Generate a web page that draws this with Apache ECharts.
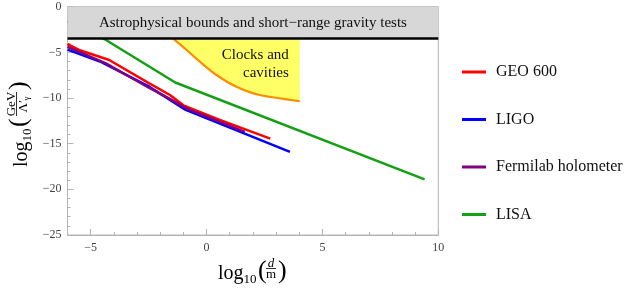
<!DOCTYPE html>
<html><head><meta charset="utf-8">
<script src="https://cdn.jsdelivr.net/npm/echarts@6/dist/echarts.min.js"></script>
<style>html,body{margin:0;padding:0;background:#fff}#c{width:633px;height:291px}</style>
</head><body><div id="c"></div>
<script>
// ---- data (log10 d/m , log10 GeV/Λ'γ) ----
const geoX   = [-6, -5.5, -4.2, -2.47, -1.58, -1.0, 0.57, 2.75];
const geoY   = [-4.1, -4.74, -5.84, -8.39, -9.67, -10.8, -12.4, -14.45];
const ligoX  = [-6, -4.6, -2.47, -1.58, -0.9, 3.6];
const ligoY  = [-4.7, -6.0, -8.76, -10.2, -11.3, -15.9];
const fermiX = [-6, -4.34, -2.47, -1.58, -0.9, 1.65];
const fermiY = [-4.4, -6.2, -8.9, -10.1, -11.1, -13.7];
const lisaX  = [-6, -4.41, -1.35, 9.41];
const lisaY  = [-1.6, -3.54, -8.3, -18.9];
const clockX = [-1.44, -0.86, -0.29, 0.43, 1.29, 2.30, 4.02];
const clockY = [-3.5, -4.74, -6.02, -7.48, -8.76, -9.67, -10.33];
const bandTop = 0, bandBottom = -3.5;
const bandText = 'Astrophysical bounds and short\u2212range gravity tests';
const clockText = 'Clocks and\ncavities';
const clockLabelAt = [3.55, -6.26];
const seriesNames = ['GEO 600', 'LIGO', 'Fermilab holometer', 'LISA'];
const seriesColors = ['#ff0000', '#0000ff', '#800080', '#14a014'];
const xMajor = [-5, 0, 5, 10];
const xMin = -6, xMax = 10, yMin = -25, yMax = 0;

const zip = (xs, ys) => xs.map((x, i) => [x, ys[i]]);
const FONT = 'Liberation Serif';
const minus = v => (v < 0 ? '\u2212' + Math.abs(v) : String(v));

const lineSeries = [[geoX, geoY], [ligoX, ligoY], [fermiX, fermiY], [lisaX, lisaY]].map((d, i) => ({
  name: seriesNames[i], type: 'line', data: zip(d[0], d[1]), showSymbol: false, symbol: 'none',
  lineStyle: { color: seriesColors[i], width: 2.5 }, itemStyle: { color: seriesColors[i] }, z: 2
}));

function t(text, x, y, size, extra) {
  return { type: 'text', style: Object.assign({
    text, x, y, font: size + 'px "' + FONT + '"', fill: '#000',
    align: 'left', verticalAlign: 'middle', textAlign: 'left', textVerticalAlign: 'middle'
  }, extra || {}) };
}
function line(x1, x2, y) {
  return { type: 'line', shape: { x1, y1: y, x2, y2: y }, style: { stroke: '#000', lineWidth: 0.8 } };
}

const xTitle = {
  type: 'group', x: 218, y: 274, children: [
    t('log', 0, 0, 20), t('10', 25.6, 6, 13), t('(', 40, -3, 26),
    t('d', 53, -10, 13, { align: 'center', textAlign: 'center', font: 'italic 13px "' + FONT + '"' }),
    line(48, 58, -5.5),
    t('m', 53, 1, 13, { align: 'center', textAlign: 'center' }),
    t(')', 60, -3, 26)
  ]
};
const yTitle = {
  type: 'group', x: 22, y: 167, rotation: Math.PI / 2, children: [
    t('log', 0, 0, 20), t('10', 25.6, 6, 13), t('(', 40, -3, 26),
    t('GeV', 63, -10, 13, { align: 'center', textAlign: 'center' }),
    line(51, 75, -5.5),
    t('\u039B\u2032', 54.5, 1.5, 13),
    t('\u03B3', 66.5, 4.5, 9),
    t(')', 77, -3, 26)
  ]
};

const option = {
  animation: false,
  backgroundColor: '#fff',
  grid: { left: 67.5, right: 194.7, top: 6.7, bottom: 56, show: true, borderColor: '#b4b4b4', borderWidth: 1 },
  xAxis: [{
    type: 'value', min: xMin, max: xMax, interval: 1,
    axisLine: { show: true, onZero: false, lineStyle: { color: '#b4b4b4' } },
    axisTick: { show: true, inside: true, length: 3, lineStyle: { color: '#b4b4b4' } },
    axisLabel: { customValues: xMajor, formatter: minus, color: '#444', fontFamily: FONT, fontSize: 12, margin: 7 },
    splitLine: { show: false }
  }, {
    type: 'value', min: xMin, max: xMax, interval: 1, position: 'bottom',
    axisLine: { show: false, onZero: false },
    axisTick: { show: true, inside: true, length: 6, customValues: xMajor, lineStyle: { color: '#b4b4b4' } },
    axisLabel: { show: false }, splitLine: { show: false }
  }],
  yAxis: {
    type: 'value', min: yMin, max: yMax, interval: 5,
    axisLine: { show: true, onZero: false, lineStyle: { color: '#b4b4b4' } },
    axisTick: { show: true, inside: true, length: 6, lineStyle: { color: '#b4b4b4' } },
    minorTick: { show: true, splitNumber: 5, length: 3, lineStyle: { color: '#b4b4b4' } },
    axisLabel: { formatter: minus, color: '#444', fontFamily: FONT, fontSize: 12, margin: 6 },
    splitLine: { show: false }
  },
  legend: {
    orient: 'vertical', left: 462, top: 64, padding: 0, itemGap: 31.5, itemWidth: 24, itemHeight: 3,
    icon: 'rect', data: seriesNames,
    textStyle: { fontFamily: FONT, fontSize: 16, color: '#111', padding: [0, 0, 0, 5] }
  },
  graphic: [xTitle, yTitle],
  series: [
    {
      name: 'clocks', type: 'line', data: zip(clockX, clockY), smooth: 0.3, showSymbol: false, symbol: 'none',
      lineStyle: { color: '#ff8c00', width: 2.2 },
      areaStyle: { color: '#ffff66', origin: bandBottom, opacity: 1 }, z: 2,
      markPoint: {
        symbol: 'circle', symbolSize: 0, silent: true, z: 5,
        data: [{ coord: clockLabelAt }],
        label: { show: true, position: 'inside', formatter: clockText, align: 'right',
          fontFamily: FONT, fontSize: 15, lineHeight: 18, color: '#111' }
      }
    },
    ...lineSeries,
    {
      name: 'band', type: 'line', data: [], z: 5,
      markArea: {
        silent: true, z: 4, itemStyle: { color: '#d7d7d7' },
        label: { show: true, position: 'inside', formatter: bandText, fontFamily: FONT, fontSize: 15, color: '#111' },
        data: [[{ yAxis: bandTop }, { yAxis: bandBottom }]]
      },
      markLine: {
        silent: true, z: 6, symbol: 'none', label: { show: false },
        lineStyle: { color: '#000', width: 2.5, type: 'solid' },
        data: [{ yAxis: bandBottom }]
      }
    }
  ]
};
const chart = echarts.init(document.getElementById('c'), null, { renderer: 'canvas' });
chart.setOption(option);
</script></body></html>
